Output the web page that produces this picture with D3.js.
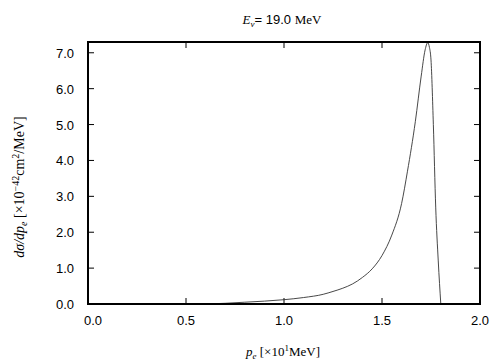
<!DOCTYPE html>
<html>
<head>
<meta charset="utf-8">
<script src="https://cdn.jsdelivr.net/npm/d3@7"></script>
<style>
  body { margin: 0; background: #fff; }
  svg { display: block; }
</style>
</head>
<body>
<script>
// data
const pe = [0.60, 0.70, 0.80, 0.90, 1.00, 1.10, 1.20, 1.25, 1.30, 1.35, 1.40, 1.45, 1.50, 1.55, 1.60, 1.63, 1.67, 1.70, 1.72, 1.733, 1.742, 1.75, 1.762, 1.774, 1.787, 1.80];
const dsig = [0.00, 0.02, 0.05, 0.08, 0.12, 0.18, 0.27, 0.35, 0.44, 0.56, 0.74, 0.98, 1.35, 1.92, 2.80, 3.70, 5.08, 6.35, 7.08, 7.28, 7.15, 6.80, 5.00, 2.70, 1.20, 0.00];
const xTicks = [0.0, 0.5, 1.0, 1.5, 2.0];
const yTicks = [0, 1, 2, 3, 4, 5, 6, 7];

const width = 504, height = 360;
const margin = { top: 42, right: 24, bottom: 56, left: 88 };

const svg = d3.select('body').append('svg')
    .attr('width', width)
    .attr('height', height);

const x = d3.scaleLinear().domain([0, 2]).range([margin.left, width - margin.right]);
const y = d3.scaleLinear().domain([0, 7.3]).range([height - margin.bottom, margin.top]);

const tickLen = 6;
const sans = 'Liberation Sans, Arial, sans-serif';
const serif = 'Liberation Serif, Times New Roman, serif';

// ticks, mirrored on all sides, pointing inward
const tk = svg.append('g').attr('stroke', '#000').attr('stroke-width', 1);
xTicks.forEach(v => {
    tk.append('line').attr('x1', x(v)).attr('x2', x(v))
        .attr('y1', y(0)).attr('y2', y(0) - tickLen);
    tk.append('line').attr('x1', x(v)).attr('x2', x(v))
        .attr('y1', y(7.3)).attr('y2', y(7.3) + tickLen);
});
yTicks.forEach(v => {
    tk.append('line').attr('y1', y(v)).attr('y2', y(v))
        .attr('x1', x(0)).attr('x2', x(0) + tickLen);
    tk.append('line').attr('y1', y(v)).attr('y2', y(v))
        .attr('x1', x(2)).attr('x2', x(2) - tickLen);
});

// tick labels
svg.append('g').selectAll('text')
    .data(xTicks).enter().append('text')
    .attr('x', d => x(d) + 5 * (d === 0 ? 1 : 0))
    .attr('y', y(0) + 21)
    .attr('text-anchor', 'middle')
    .style('font-family', sans)
    .style('font-size', '13px')
    .text(d => d.toFixed(1));

svg.append('g').selectAll('text')
    .data(yTicks).enter().append('text')
    .attr('x', 74)
    .attr('y', d => y(d) + 5)
    .attr('text-anchor', 'end')
    .style('font-family', sans)
    .style('font-size', '13px')
    .text(d => d.toFixed(1));

// curve
const line = d3.line()
    .x((d, i) => x(pe[i]))
    .y(d => y(d))
    .curve(d3.curveMonotoneX);

svg.append('path')
    .datum(dsig)
    .attr('d', line)
    .attr('fill', 'none')
    .attr('stroke', '#333')
    .attr('stroke-width', 0.9);

// frame
svg.append('rect')
    .attr('x', x(0)).attr('y', y(7.3))
    .attr('width', x(2) - x(0)).attr('height', y(0) - y(7.3))
    .attr('fill', 'none')
    .attr('stroke', '#000')
    .attr('stroke-width', 2);

// title
const title = svg.append('text')
    .attr('x', 282).attr('y', 24)
    .attr('text-anchor', 'middle')
    .style('font-size', '13px');
title.append('tspan').style('font-family', serif).style('font-style', 'italic').text('E');
title.append('tspan').style('font-family', serif).style('font-style', 'italic')
    .style('font-size', '9px').attr('dy', 3).text('ν');
title.append('tspan').style('font-family', sans).attr('dy', -3).text('= 19.0 ');
title.append('tspan').style('font-family', serif).text('MeV');

// x label
const xl = svg.append('text')
    .attr('x', 283).attr('y', 356)
    .attr('text-anchor', 'middle')
    .style('font-family', serif)
    .style('font-size', '13px');
xl.append('tspan').style('font-style', 'italic').text('p');
xl.append('tspan').style('font-style', 'italic').style('font-size', '9px').attr('dy', 3).text('e');
xl.append('tspan').attr('dy', -3).text(' [×10');
xl.append('tspan').style('font-size', '9px').attr('dy', -5).text('1');
xl.append('tspan').attr('dy', 5).text('MeV]');

// y label
const yl = svg.append('text')
    .attr('transform', 'translate(24,187) rotate(-90)')
    .attr('text-anchor', 'middle')
    .style('font-family', serif)
    .style('font-size', '14px');
yl.append('tspan').style('font-style', 'italic').text('dσ/dp');
yl.append('tspan').style('font-style', 'italic').style('font-size', '10px').attr('dy', 3).text('e');
yl.append('tspan').attr('dy', -3).text(' [×10');
yl.append('tspan').style('font-size', '10px').attr('dy', -5).text('−42');
yl.append('tspan').attr('dy', 5).text('cm');
yl.append('tspan').style('font-size', '10px').attr('dy', -5).text('2');
yl.append('tspan').attr('dy', 5).text('/MeV]');
</script>
</body>
</html>
